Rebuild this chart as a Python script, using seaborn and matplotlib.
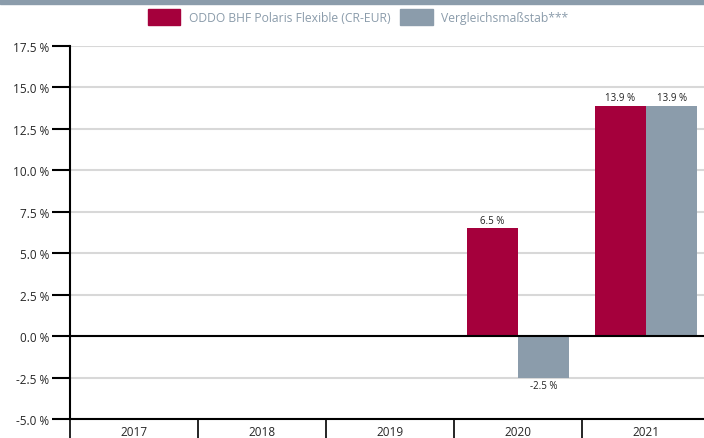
import pandas as pd
import seaborn as sns
import matplotlib.pyplot as plt
from matplotlib.patches import Rectangle
from matplotlib.ticker import FixedLocator

years = ["2017", "2018", "2019", "2020", "2021"]
series = ["ODDO BHF Polaris Flexible (CR-EUR)", "Vergleichsmaßstab***"]
fund_years = ["2020", "2021"]
fund_vals = [6.5, 13.9]
bench_years = ["2020", "2021"]
bench_vals = [-2.5, 13.9]
yticks = [-5.0, -2.5, 0.0, 2.5, 5.0, 7.5, 10.0, 12.5, 15.0, 17.5]

df = pd.DataFrame({
    "year": fund_years + bench_years,
    "value": fund_vals + bench_vals,
    "series": [series[0]] * len(fund_years) + [series[1]] * len(bench_years),
})

sns.set_style("white")
plt.rcParams["font.family"] = ["Open Sans", "DejaVu Sans"]

red = "#a5003c"
grey = "#8b9cab"

fig = plt.figure(figsize=(7.04, 4.39), dpi=100)
ax = fig.add_axes([70 / 704, 19 / 439, 640 / 704, 373 / 439])

sns.barplot(data=df, x="year", y="value", hue="series", order=years,
            hue_order=series, palette=[red, grey], width=0.8,
            saturation=1, errorbar=None, linewidth=0, ax=ax, legend=False)

for cont in ax.containers:
    labels = [f"{v:.1f} %" for v in cont.datavalues]
    ax.bar_label(cont, labels=labels, padding=2, fontsize=7, color="#222222")

ax.set_xlim(-0.5, 4.5)
ax.set_ylim(-5, 17.5)
ax.set_yticks(yticks)
ax.set_yticklabels([f"{t:.1f} %" for t in yticks], fontsize=8.5)
ax.yaxis.grid(True, color="#d8d8d8", lw=1.5)
ax.set_axisbelow(True)
ax.axhline(0, color="black", lw=1.5)

ax.tick_params(axis="y", left=True, direction="out", length=13, width=1.5, color="black", pad=2)
ax.tick_params(axis="x", which="major", length=0, pad=4, labelsize=8.5)
ax.xaxis.set_minor_locator(FixedLocator([i - 0.5 for i in range(len(years) + 1)]))
ax.tick_params(axis="x", which="minor", bottom=True, direction="out", length=15,
               width=1.2, color="black")
ax.set_xlabel("")
ax.set_ylabel("")

for s in ["top", "right"]:
    ax.spines[s].set_visible(False)
ax.spines["left"].set_color("black")
ax.spines["left"].set_linewidth(1.5)
ax.spines["bottom"].set_color("black")
ax.spines["bottom"].set_linewidth(1.5)

# grey band on top
fig.patches.append(Rectangle((0, 1 - 5 / 439), 1, 5 / 439, transform=fig.transFigure,
                             color="#8b9cab", zorder=0))

handles = [Rectangle((0, 0), 1, 1, color=red), Rectangle((0, 0), 1, 1, color=grey)]
leg = fig.legend(handles, series, loc="center", bbox_to_anchor=(358 / 704, 1 - 18 / 439),
                 ncol=2, frameon=False, fontsize=8.7, handlelength=2.7, handleheight=1.7,
                 handletextpad=0.7, columnspacing=0.8)
for t in leg.get_texts():
    t.set_color("#8b9cab")

fig.savefig("out.png", dpi=100)
